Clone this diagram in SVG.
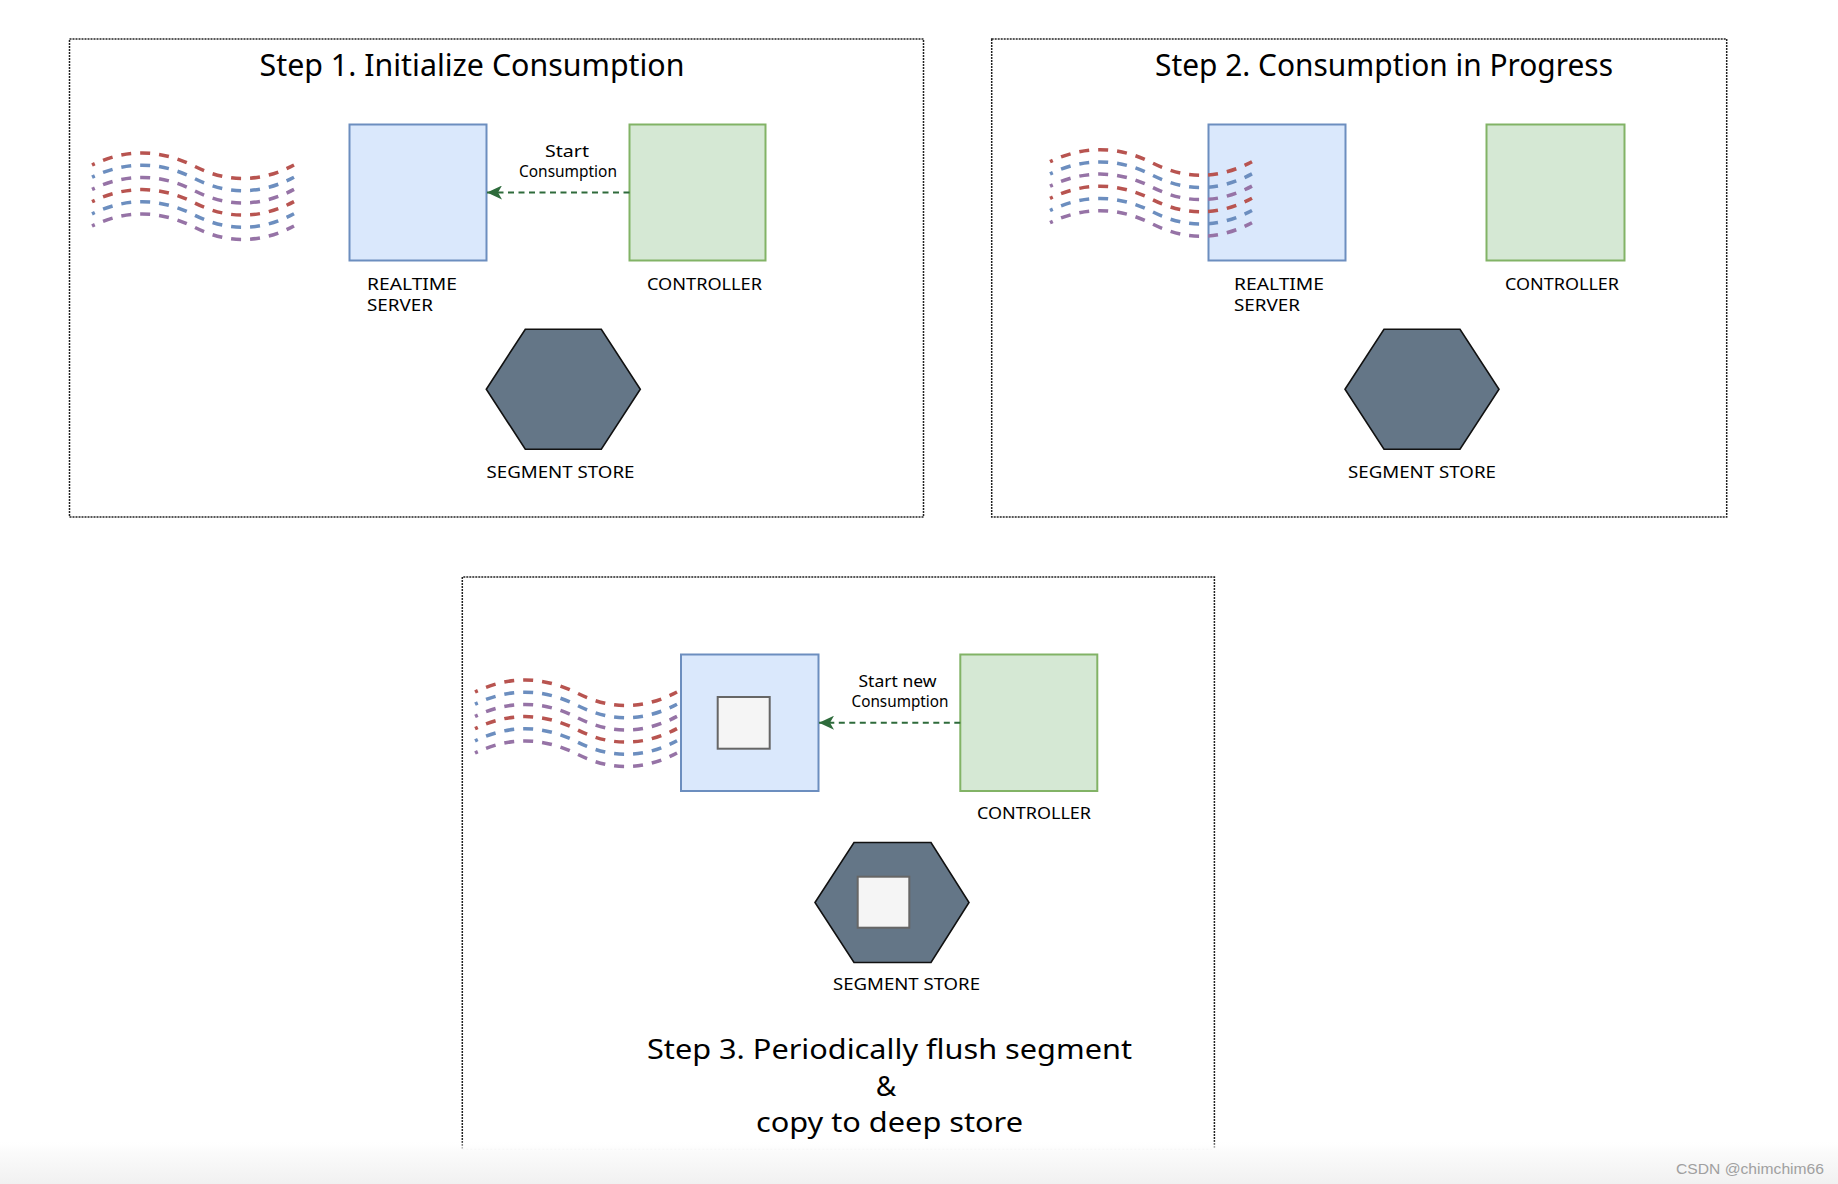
<svg xmlns="http://www.w3.org/2000/svg" xmlns:xlink="http://www.w3.org/1999/xlink" width="1838" height="1184" viewBox="0 0 1838 1184">
  <style>
    .frame { fill: none; stroke: #222; stroke-width: 1.5; stroke-dasharray: 2 1; }
    .rts { fill: #dae8fc; stroke: #6c8ebf; stroke-width: 2; }
    .ctl { fill: #d5e8d4; stroke: #82b366; stroke-width: 2; }
    .hex { fill: #647687; stroke: #111; stroke-width: 1.6; stroke-linejoin: miter; }
    .seg { fill: #f5f5f5; stroke: #666666; stroke-width: 2; }
    .title { font-family: "Noto Sans", "Liberation Sans", sans-serif; font-size: 30px; fill: #000; }
    .title3 { font-family: "Noto Sans", "Liberation Sans", sans-serif; font-size: 28px; fill: #000; }
    .lbl { font-family: "Noto Sans", "Liberation Sans", sans-serif; font-size: 17px; fill: #000; }
    .elbl { font-family: "Noto Sans", "Liberation Sans", sans-serif; font-size: 16px; fill: #000; }
    .wave { fill: none; stroke-width: 3.5; stroke-dasharray: 10 9; stroke-dashoffset: 7; }
    .r { stroke: #b85450; }
    .b { stroke: #6c8ebf; }
    .p { stroke: #9673a6; }
    .conn { fill: none; stroke: #2e6b3b; stroke-width: 2; stroke-dasharray: 6 4.5; }
    .wm { font-family: "Liberation Sans", Arial, sans-serif; font-size: 14px; fill: #a0a0a0; }
  </style>
  <defs>
    <marker id="arrow" markerUnits="userSpaceOnUse" markerWidth="16" markerHeight="14" viewBox="0 0 16 14" refX="15" refY="7" orient="auto">
      <path d="M15,7 L0,0 L4,7 L0,14 Z" fill="#2e6b3b"/>
    </marker>
    <g id="wavebundle">
      <path class="wave r" d="M0,0 Q50,-24 100,0 Q151,27 202,0"/>
      <path class="wave b" transform="translate(0,12.2)" d="M0,0 Q50,-24 100,0 Q151,27 202,0"/>
      <path class="wave p" transform="translate(0,24.4)" d="M0,0 Q50,-24 100,0 Q151,27 202,0"/>
      <path class="wave r" transform="translate(0,36.6)" d="M0,0 Q50,-24 100,0 Q151,27 202,0"/>
      <path class="wave b" transform="translate(0,48.8)" d="M0,0 Q50,-24 100,0 Q151,27 202,0"/>
      <path class="wave p" transform="translate(0,61)" d="M0,0 Q50,-24 100,0 Q151,27 202,0"/>
    </g>
    <linearGradient id="band" x1="0" y1="0" x2="0" y2="1">
      <stop offset="0" stop-color="#ffffff" stop-opacity="0"/>
      <stop offset="0.25" stop-color="#fbfbfb" stop-opacity="1"/>
      <stop offset="1" stop-color="#f1f1f1" stop-opacity="1"/>
    </linearGradient>
  </defs>

  <rect x="0" y="0" width="1838" height="1184" fill="#ffffff"/>

  <!-- Step 1 -->
  <g id="step1">
    <rect class="frame" x="69.5" y="39" width="854" height="478"/>
    <text class="title" x="472" y="75.5" text-anchor="middle" textLength="425" lengthAdjust="spacingAndGlyphs">Step 1. Initialize Consumption</text>
  </g>
  <g id="step1-stream">
    <use xlink:href="#wavebundle" href="#wavebundle" transform="translate(92,165)"/>
  </g>
  <g id="step1-realtime">
    <rect class="rts" x="349.5" y="124.5" width="137" height="136"/>
    <text class="lbl" x="367" y="290" textLength="90" lengthAdjust="spacingAndGlyphs">REALTIME</text>
    <text class="lbl" x="367" y="310.5" textLength="66" lengthAdjust="spacingAndGlyphs">SERVER</text>
  </g>
  <g id="step1-controller">
    <rect class="ctl" x="629.5" y="124.5" width="136" height="136"/>
    <text class="lbl" x="647" y="290" textLength="115" lengthAdjust="spacingAndGlyphs">CONTROLLER</text>
  </g>
  <g id="step1-segmentstore">
    <polygon class="hex" points="486.3,389.2 525.3,329.2 601.3,329.2 640.3,389.2 601.3,449.2 525.3,449.2"/>
    <text class="lbl" x="486.5" y="478" textLength="148" lengthAdjust="spacingAndGlyphs">SEGMENT STORE</text>
  </g>

  <!-- Step 2 -->
  <g id="step2">
    <rect class="frame" x="991.7" y="39" width="735" height="478"/>
    <text class="title" x="1384" y="75.5" text-anchor="middle" textLength="458" lengthAdjust="spacingAndGlyphs">Step 2. Consumption in Progress</text>
  </g>
  <g id="step2-realtime">
    <rect class="rts" x="1208.5" y="124.5" width="137" height="136"/>
    <text class="lbl" x="1234" y="290" textLength="90" lengthAdjust="spacingAndGlyphs">REALTIME</text>
    <text class="lbl" x="1234" y="310.5" textLength="66" lengthAdjust="spacingAndGlyphs">SERVER</text>
  </g>
  <g id="step2-stream">
    <use xlink:href="#wavebundle" href="#wavebundle" transform="translate(1050,161.7)"/>
  </g>
  <g id="step2-controller">
    <rect class="ctl" x="1486.5" y="124.5" width="138" height="136"/>
    <text class="lbl" x="1505" y="290" textLength="114" lengthAdjust="spacingAndGlyphs">CONTROLLER</text>
  </g>
  <g id="step2-segmentstore">
    <polygon class="hex" points="1345,389.2 1384,329.2 1460,329.2 1499,389.2 1460,449.2 1384,449.2"/>
    <text class="lbl" x="1348" y="478" textLength="148" lengthAdjust="spacingAndGlyphs">SEGMENT STORE</text>
  </g>

  <!-- Step 3 -->
  <g id="step3">
    <path class="frame" d="M462.3,1149 L462.3,577 L1214.4,577 L1214.4,1149"/>
    <line x1="462.3" y1="1149.3" x2="1214.4" y2="1149.3" stroke="#d6d6d6" stroke-width="1" stroke-dasharray="2 2"/>
    <text class="title3" x="889.5" y="1059" text-anchor="middle" textLength="485" lengthAdjust="spacingAndGlyphs">Step 3. Periodically flush segment</text>
    <text class="title3" x="886" y="1096" text-anchor="middle">&amp;</text>
    <text class="title3" x="889.5" y="1132" text-anchor="middle" textLength="267" lengthAdjust="spacingAndGlyphs">copy to deep store</text>
  </g>
  <g id="step3-stream">
    <use xlink:href="#wavebundle" href="#wavebundle" transform="translate(475,692)"/>
  </g>
  <g id="step3-realtime">
    <rect class="rts" x="681" y="654.5" width="137.5" height="136.5"/>
    <rect class="seg" x="717.7" y="697" width="52" height="51.7"/>
  </g>
  <g id="step3-controller">
    <rect class="ctl" x="960.3" y="654.5" width="137" height="136.5"/>
    <text class="lbl" x="977" y="819" textLength="114" lengthAdjust="spacingAndGlyphs">CONTROLLER</text>
  </g>
  <g id="step3-segmentstore">
    <polygon class="hex" points="815,902.5 854,842.5 931,842.5 969,902.5 931,962.5 854,962.5"/>
    <rect class="seg" x="857.7" y="876.7" width="51.6" height="51"/>
    <text class="lbl" x="833" y="990" textLength="147" lengthAdjust="spacingAndGlyphs">SEGMENT STORE</text>
  </g>

  <!-- Connectors -->
  <g id="connectors">
    <line class="conn" x1="629.5" y1="192.5" x2="487" y2="192.5" marker-end="url(#arrow)"/>
    <text class="elbl" x="567" y="156.5" text-anchor="middle" textLength="44" lengthAdjust="spacingAndGlyphs">Start</text>
    <text class="elbl" x="568" y="176.5" text-anchor="middle" textLength="98" lengthAdjust="spacingAndGlyphs">Consumption</text>
    <line class="conn" x1="960.3" y1="722.7" x2="819" y2="722.7" marker-end="url(#arrow)"/>
    <text class="elbl" x="897.5" y="686.7" text-anchor="middle" textLength="78" lengthAdjust="spacingAndGlyphs">Start new</text>
    <text class="elbl" x="900" y="706.7" text-anchor="middle" textLength="97" lengthAdjust="spacingAndGlyphs">Consumption</text>
  </g>

  <!-- bottom band and watermark -->
  <rect x="0" y="1140" width="1838" height="44" fill="url(#band)"/>
  <text class="wm" x="1676" y="1174" textLength="148" lengthAdjust="spacingAndGlyphs">CSDN @chimchim66</text>
</svg>
